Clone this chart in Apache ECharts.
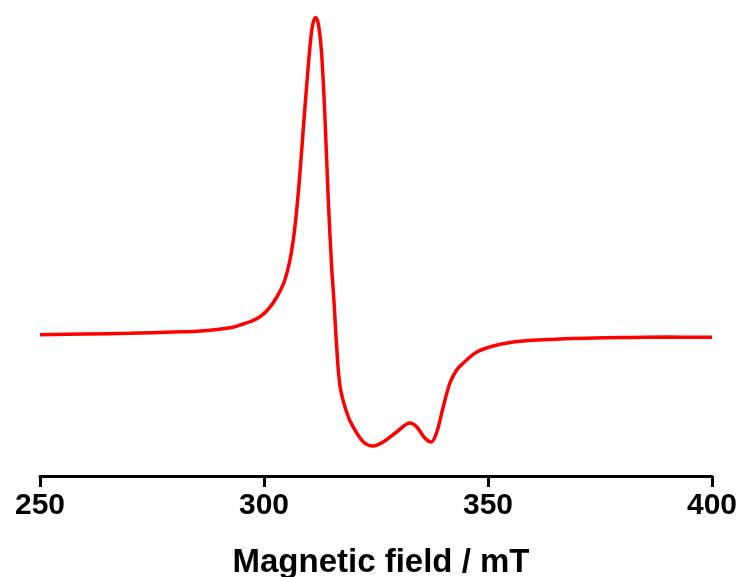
<!DOCTYPE html>
<html>
<head>
<meta charset="utf-8">
<script src="https://cdn.jsdelivr.net/npm/echarts@6/dist/echarts.min.js"></script>
<style>
  html, body { margin: 0; padding: 0; background: #fff; }
  #chart { width: 740px; height: 577px; }
</style>
</head>
<body>
<div id="chart"></div>
<script>
// EPR spectrum: magnetic field (mT) vs. first-derivative signal (arb. units)
const fieldMT = [
  250, 260, 270, 280, 285, 290, 293, 295, 297, 299,
  301, 303, 304.5, 305.8, 306.9, 307.9, 308.8, 309.5, 310.4, 310.9,
  311.5, 312.05, 312.8, 313.6, 314.35, 315.1, 315.6, 316.2, 317.0, 318.5,
  319.9, 322.2, 324.4, 326.6, 329.6, 332.6, 334.1, 335.9, 337.3, 338.5,
  340.0, 341.5, 343.0, 344.5, 347.5, 351.2, 355, 360, 366, 372,
  380, 390, 400
];
const signal = [
  0.3, 1.0, 1.7, 3.0, 3.8, 5.8, 7.8, 10.5, 13.5, 18,
  26, 39, 53, 75, 108, 155, 208, 248, 295, 311,
  317.5, 313, 285, 218, 135, 68, 35, -10, -52, -78,
  -92, -107, -111, -107, -97, -88, -92, -103, -107, -98,
  -72, -48, -35, -28, -17, -11, -7.5, -5.3, -4, -3.2,
  -2.6, -2.1, -2.3
];
const xTicks = { min: 250, max: 400, step: 50 };
const axisTitle = 'Magnetic field / mT';

const chart = echarts.init(document.getElementById('chart'), null, { renderer: 'canvas' });
chart.setOption({
  animation: false,
  backgroundColor: '#ffffff',
  grid: {
    left: 40, right: 28, top: 16, bottom: 101,
    containLabel: false,
    outerBoundsMode: 'none'
  },
  xAxis: {
    type: 'value',
    min: xTicks.min,
    max: xTicks.max,
    interval: xTicks.step,
    name: axisTitle,
    nameLocation: 'middle',
    nameGap: 70,
    nameTextStyle: {
      fontFamily: 'Liberation Sans, Arial, sans-serif',
      fontWeight: 'bold',
      fontSize: 33,
      color: '#000',
      padding: [0, 0, 0, 10]
    },
    axisLine: { show: true, onZero: false, lineStyle: { color: '#000', width: 3 } },
    axisTick: { show: true, inside: false, length: 11, lineStyle: { color: '#000', width: 3 } },
    axisLabel: {
      margin: 15,
      fontFamily: 'Liberation Sans, Arial, sans-serif',
      fontWeight: 'bold',
      fontSize: 30,
      color: '#000'
    },
    splitLine: { show: false }
  },
  yAxis: {
    type: 'value',
    min: -141,
    max: 319,
    show: false
  },
  series: [{
    type: 'line',
    data: fieldMT.map((f, i) => [f, signal[i]]),
    showSymbol: false,
    smooth: 0.35,
    lineStyle: { color: '#ff0000', width: 3.5 },
    itemStyle: { color: '#ff0000' }
  }]
});
</script>
</body>
</html>
